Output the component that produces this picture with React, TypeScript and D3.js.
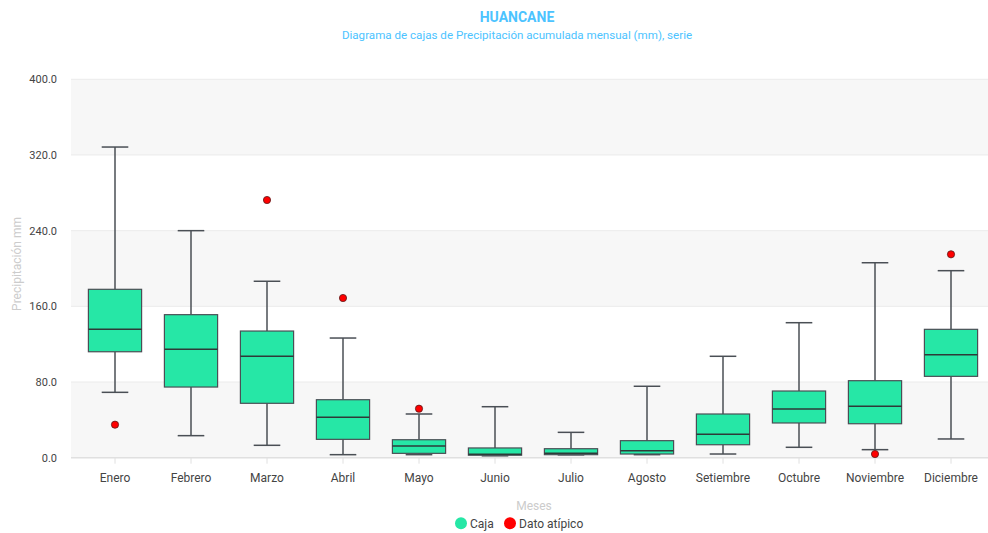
import { useRef, useEffect } from 'react';
import * as d3 from 'd3';

const MONTHS = ['Enero', 'Febrero', 'Marzo', 'Abril', 'Mayo', 'Junio', 'Julio', 'Agosto', 'Setiembre', 'Octubre', 'Noviembre', 'Diciembre'];
// five-number summary per month
const LOW = [69.1, 23.3, 13.1, 3.2, 3.2, 2.0, 3.0, 3.2, 3.9, 11.0, 8.5, 19.8];
const Q1 = [112.0, 74.7, 57.5, 19.4, 4.6, 2.6, 3.2, 3.9, 13.7, 36.7, 35.9, 86.0];
const MEDIAN = [135.7, 114.6, 107.2, 42.7, 12.4, 3.6, 4.6, 7.4, 24.7, 51.5, 54.3, 108.9];
const Q3 = [178.0, 151.2, 133.9, 61.3, 19.0, 10.3, 9.5, 18.0, 46.2, 70.5, 81.4, 135.7];
const HIGH = [328.4, 240.0, 186.5, 126.5, 46.2, 53.9, 26.8, 75.5, 107.2, 142.7, 206.1, 197.7];
const OUTLIER_MONTHS = ['Enero', 'Marzo', 'Abril', 'Mayo', 'Noviembre', 'Diciembre'];
const OUTLIER_VALUES = [34.9, 272.4, 168.8, 51.8, 3.9, 215.0];
const Y_TICKS = [0, 80, 160, 240, 320, 400];

const W = 988;
const H = 533;
const BOX_COLOR = '#26E7A6';
const OUTLIER_COLOR = '#FF0000';
const TITLE_COLOR = '#4CC3FF';
const LABEL_COLOR = '#444444';
const FONT = 'Roboto, Arial, sans-serif';

export default function App() {
  const svgRef = useRef<SVGSVGElement>(null);

  useEffect(() => {
    const svg = d3.select(svgRef.current);
    svg.selectAll('*').remove();

    const left = 71;
    const right = 988;
    const top = 79.3;
    const bottom = 457.7;

    const x = d3.scaleBand<string>().domain(MONTHS).range([77, 989]).padding(0);
    const y = d3.scaleLinear().domain([0, 400]).range([bottom, top]);
    const bw = x.bandwidth();

    // Alternating row bands
    for (let i = 0; i < Y_TICKS.length - 1; i++) {
      if (i % 2 !== 0) continue;
      svg.append('rect')
        .attr('x', left).attr('y', y(Y_TICKS[i + 1]))
        .attr('width', right - left).attr('height', y(Y_TICKS[i]) - y(Y_TICKS[i + 1]))
        .attr('fill', '#F7F7F7');
    }

    // Grid lines + y labels
    for (const t of Y_TICKS) {
      svg.append('line')
        .attr('x1', left).attr('x2', right)
        .attr('y1', y(t)).attr('y2', y(t))
        .attr('stroke', t === 0 ? '#E0E0E0' : '#EBEBEB')
        .attr('stroke-width', t === 0 ? 1.5 : 1);
      svg.append('text')
        .attr('x', 57).attr('y', y(t)).attr('dy', '0.35em')
        .attr('text-anchor', 'end')
        .attr('font-family', FONT).attr('font-size', 11)
        .attr('fill', LABEL_COLOR)
        .text(t.toFixed(1));
    }

    // X ticks and labels
    for (const m of MONTHS) {
      const cx = (x(m) ?? 0) + bw / 2;
      svg.append('line')
        .attr('x1', cx).attr('x2', cx)
        .attr('y1', bottom).attr('y2', bottom + 6)
        .attr('stroke', '#E0E0E0');
      svg.append('text')
        .attr('x', cx).attr('y', 482)
        .attr('text-anchor', 'middle')
        .attr('font-family', FONT).attr('font-size', 12)
        .attr('fill', LABEL_COLOR)
        .text(m);
    }

    // Boxes
    MONTHS.forEach((m, i) => {
      const cx = (x(m) ?? 0) + bw / 2;
      const boxW = bw * 0.7;
      const capW = bw * 0.35;
      const g = svg.append('g');
      g.append('line')
        .attr('x1', cx).attr('x2', cx)
        .attr('y1', y(HIGH[i])).attr('y2', y(Q3[i]))
        .attr('stroke', '#4A4F55').attr('stroke-width', 1.5);
      g.append('line')
        .attr('x1', cx).attr('x2', cx)
        .attr('y1', y(Q1[i])).attr('y2', y(LOW[i]))
        .attr('stroke', '#4A4F55').attr('stroke-width', 1.5);
      for (const v of [HIGH[i], LOW[i]]) {
        g.append('line')
          .attr('x1', cx - capW / 2).attr('x2', cx + capW / 2)
          .attr('y1', y(v)).attr('y2', y(v))
          .attr('stroke', '#4A4F55').attr('stroke-width', 1.5);
      }
      g.append('rect')
        .attr('x', cx - boxW / 2).attr('y', y(Q3[i]))
        .attr('width', boxW).attr('height', Math.max(y(Q1[i]) - y(Q3[i]), 1))
        .attr('fill', BOX_COLOR)
        .attr('stroke', '#4A4F55').attr('stroke-width', 1.2);
      g.append('line')
        .attr('x1', cx - boxW / 2).attr('x2', cx + boxW / 2)
        .attr('y1', y(MEDIAN[i])).attr('y2', y(MEDIAN[i]))
        .attr('stroke', '#2E3A38').attr('stroke-width', 1.5);
    });

    // Outliers
    OUTLIER_MONTHS.forEach((m, i) => {
      const cx = (x(m) ?? 0) + bw / 2;
      svg.append('circle')
        .attr('cx', cx).attr('cy', y(OUTLIER_VALUES[i]))
        .attr('r', 3.6)
        .attr('fill', OUTLIER_COLOR)
        .attr('stroke', '#5A1A1A').attr('stroke-width', 0.8);
    });

    // Titles
    svg.append('text')
      .attr('x', 517).attr('y', 22)
      .attr('text-anchor', 'middle')
      .attr('font-family', FONT).attr('font-size', 14).attr('font-weight', 'bold')
      .attr('fill', TITLE_COLOR)
      .text('HUANCANE');
    svg.append('text')
      .attr('x', 517).attr('y', 39)
      .attr('text-anchor', 'middle')
      .attr('font-family', FONT).attr('font-size', 11.6)
      .attr('fill', TITLE_COLOR)
      .text('Diagrama de cajas de Precipitación acumulada mensual (mm), serie');

    // Axis titles
    svg.append('text')
      .attr('transform', 'translate(21, 264) rotate(-90)')
      .attr('text-anchor', 'middle')
      .attr('font-family', FONT).attr('font-size', 12)
      .attr('fill', '#CCCCCC')
      .text('Precipitación mm');
    svg.append('text')
      .attr('x', 534).attr('y', 510)
      .attr('text-anchor', 'middle')
      .attr('font-family', FONT).attr('font-size', 12)
      .attr('fill', '#CCCCCC')
      .text('Meses');

    // Legend
    const legend = [
      { label: 'Caja', color: BOX_COLOR, cx: 461 },
      { label: 'Dato atípico', color: OUTLIER_COLOR, cx: 510 },
    ];
    for (const l of legend) {
      svg.append('circle')
        .attr('cx', l.cx).attr('cy', 523.3).attr('r', 6)
        .attr('fill', l.color);
      svg.append('text')
        .attr('x', l.cx + 9).attr('y', 523.3).attr('dy', '0.35em')
        .attr('font-family', FONT).attr('font-size', 12)
        .attr('fill', LABEL_COLOR)
        .text(l.label);
    }
  }, []);

  return (
    <div style={{ position: 'absolute', left: 0, top: 0, width: W, height: H, background: '#fff' }}>
      <svg ref={svgRef} width={W} height={H} style={{ display: 'block' }} />
    </div>
  );
}
